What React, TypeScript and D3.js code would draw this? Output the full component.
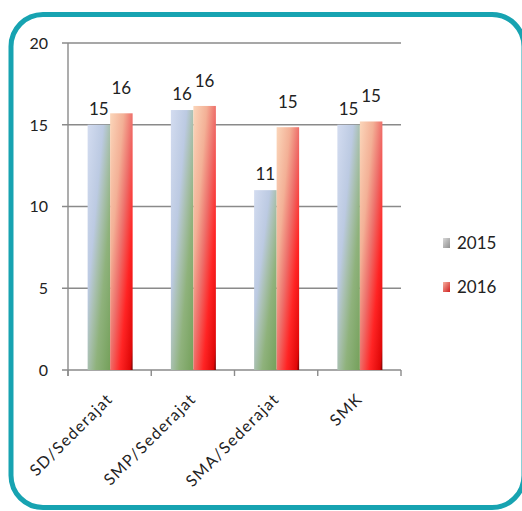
import React from "react";
import * as d3 from "d3";

const categories = ["SD/Sederajat", "SMP/Sederajat", "SMA/Sederajat", "SMK"];
const seriesNames = ["2015", "2016"];
const values2015 = [15.0, 15.9, 11.0, 15.0];
const values2016 = [15.7, 16.15, 14.85, 15.2];
const yTicks = [0, 5, 10, 15, 20];

const W = 522;
const H = 511;
const FONT = "Lato, 'Open Sans', sans-serif";

export default function App() {
  const plot = { left: 68, right: 401, top: 43, bottom: 370 };
  const y = d3.scaleLinear().domain([0, 20]).range([plot.bottom, plot.top]);
  const x = d3.scaleBand<string>().domain(categories).range([plot.left, plot.right]).padding(0);
  const groupW = 45;
  const xs = d3.scaleBand<string>().domain(seriesNames).range([0, groupW]).padding(0);
  const fmt = d3.format(".0f");
  const series = [
    { name: "2015", values: values2015, grad: "g2015", labelOff: 10 },
    { name: "2016", values: values2016, grad: "g2016", labelOff: 19 },
  ];
  const boundaries = [...categories.map((c) => x(c)!), plot.right];

  return (
    <svg
      width={W}
      height={H}
      style={{ position: "absolute", left: 0, top: 0, display: "block", background: "#fff" }}
      fontFamily={FONT}
    >
      <defs>
        <linearGradient id="g2015" x1="0" y1="0" x2="1" y2="1">
          <stop offset="0" stopColor="#d3dcf0" />
          <stop offset="0.35" stopColor="#bccae2" />
          <stop offset="0.5" stopColor="#a9c0b0" />
          <stop offset="0.68" stopColor="#8fb27c" />
          <stop offset="1" stopColor="#74a05a" />
        </linearGradient>
        <linearGradient id="g2016" x1="0" y1="0" x2="1" y2="1">
          <stop offset="0" stopColor="#fbd6ba" />
          <stop offset="0.3" stopColor="#f3b096" />
          <stop offset="0.5" stopColor="#ee6f6a" />
          <stop offset="0.72" stopColor="#ff2424" />
          <stop offset="0.94" stopColor="#e00808" />
          <stop offset="1" stopColor="#6a0000" />
        </linearGradient>
        <linearGradient id="lg2015" x1="0" y1="0" x2="1" y2="1">
          <stop offset="0" stopColor="#d8d8d8" />
          <stop offset="1" stopColor="#909090" />
        </linearGradient>
        <linearGradient id="lg2016" x1="0" y1="0" x2="1" y2="1">
          <stop offset="0" stopColor="#f6b0a0" />
          <stop offset="1" stopColor="#d02020" />
        </linearGradient>
      </defs>

      {/* frame */}
      <rect x={11} y={14.5} width={513} height={493} rx={32} ry={32} fill="#fff" stroke="#17a3b1" strokeWidth={5} />

      {/* gridlines */}
      {yTicks.map((t) => (
        <line key={"g" + t} x1={plot.left - 6} x2={plot.right} y1={y(t)} y2={y(t)} stroke="#8a8a8a" strokeWidth={1.4} />
      ))}
      {/* y axis */}
      <line x1={plot.left} x2={plot.left} y1={plot.top} y2={plot.bottom + 6} stroke="#8a8a8a" strokeWidth={1.4} />
      {boundaries.map((b, i) => (
        <line key={"xt" + i} x1={b} x2={b} y1={plot.bottom} y2={plot.bottom + 6} stroke="#8a8a8a" strokeWidth={1.4} />
      ))}
      {yTicks.map((t) => (
        <text key={"yt" + t} x={48} y={y(t)} dy="0.36em" textAnchor="end" fontSize={16} fill="#222">
          {t}
        </text>
      ))}

      {/* bars */}
      {series.map((s) =>
        categories.map((c, i) => {
          const cx = x(c)! + x.bandwidth() / 2;
          const bx = cx - groupW / 2 + 0.5 + xs(s.name)!;
          const v = s.values[i];
          return (
            <g key={s.name + c}>
              <rect x={bx} y={y(v)} width={xs.bandwidth()} height={y(0) - y(v)} fill={`url(#${s.grad})`} />
              <text x={bx + xs.bandwidth() / 2} y={y(v) - s.labelOff} textAnchor="middle" fontSize={17} fill="#222">
                {fmt(v)}
              </text>
            </g>
          );
        })
      )}

      {/* x labels */}
      {categories.map((c) => {
        const cx = x(c)! + x.bandwidth() / 2 + 4;
        const cy = 400;
        return (
          <text
            key={"xl" + c}
            transform={`translate(${cx},${cy}) rotate(-45)`}
            textAnchor="end"
            fontSize={16}
            letterSpacing={1.3}
            fill="#222"
          >
            {c}
          </text>
        );
      })}

      {/* legend */}
      {seriesNames.map((n, i) => {
        const ly = 243 + i * 44;
        return (
          <g key={"lg" + n}>
            <rect x={443} y={ly - 5} width={7} height={10} fill={`url(#lg${n})`} />
            <text x={457} y={ly} dy="0.36em" fontSize={17} fill="#222">
              {n}
            </text>
          </g>
        );
      })}
    </svg>
  );
}
